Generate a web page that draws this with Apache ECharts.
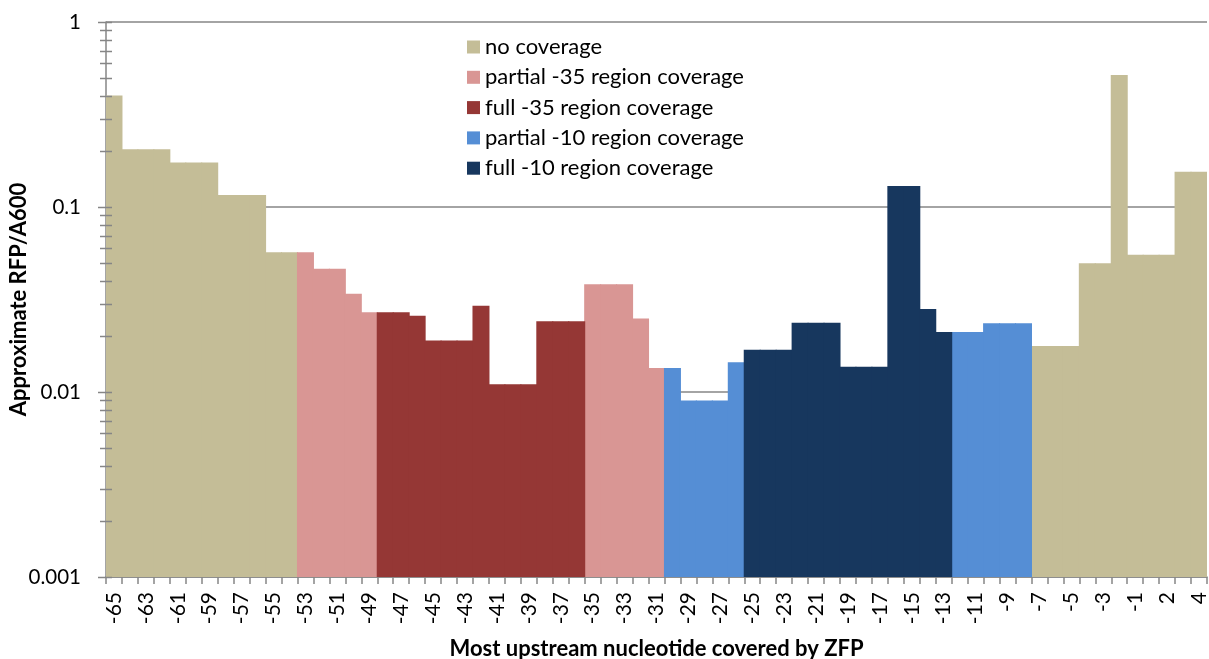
<!DOCTYPE html>
<html>
<head>
<meta charset="utf-8">
<script src="https://cdn.jsdelivr.net/npm/echarts@6/dist/echarts.min.js"></script>
<style>
  html, body { margin: 0; padding: 0; background: #fff; }
  #chart { width: 1209px; height: 659px; }
</style>
</head>
<body>
<div id="chart"></div>
<script>
// Position of the most upstream nucleotide covered by the ZFP
const positions = [
  '-65','-64','-63','-62','-61','-60','-59','-58','-57','-56',
  '-55','-54','-53','-52','-51','-50','-49','-48','-47','-46',
  '-45','-44','-43','-42','-41','-40','-39','-38','-37','-36',
  '-35','-34','-33','-32','-31','-30','-29','-28','-27','-26',
  '-25','-24','-23','-22','-21','-20','-19','-18','-17','-16',
  '-15','-14','-13','-12','-11','-10','-9','-8','-7','-6',
  '-5','-4','-3','-2','-1','1','2','3','4'
];

// Approximate RFP/A600 for each position
const rfpA600 = [
  0.40, 0.205, 0.205, 0.205, 0.174, 0.174, 0.174, 0.116, 0.116, 0.116,
  0.057, 0.057, 0.057, 0.0464, 0.0464, 0.034, 0.027, 0.027, 0.027, 0.0258,
  0.019, 0.019, 0.019, 0.0293, 0.011, 0.011, 0.011, 0.0241, 0.0241, 0.0241,
  0.0382, 0.0382, 0.0382, 0.025, 0.0135, 0.0135, 0.009, 0.009, 0.009, 0.0145,
  0.0169, 0.0169, 0.0169, 0.0237, 0.0237, 0.0237, 0.0137, 0.0137, 0.0137, 0.130,
  0.130, 0.0281, 0.0211, 0.0211, 0.0211, 0.0235, 0.0235, 0.0235, 0.0177, 0.0177,
  0.0177, 0.0496, 0.0496, 0.517, 0.0552, 0.0552, 0.0552, 0.155, 0.155
];

// Promoter coverage class of each position (index into coverageNames)
const coverageClass = [
  0,0,0,0,0,0,0,0,0,0,
  0,0,1,1,1,1,1,2,2,2,
  2,2,2,2,2,2,2,2,2,2,
  1,1,1,1,1,3,3,3,3,3,
  4,4,4,4,4,4,4,4,4,4,
  4,4,4,3,3,3,3,3,0,0,
  0,0,0,0,0,0,0,0,0
];

const coverageNames = [
  'no coverage',
  'partial -35 region coverage',
  'full -35 region coverage',
  'partial -10 region coverage',
  'full -10 region coverage'
];
const coverageColors = ['#C4BD97', '#D99694', '#953735', '#558ED5', '#17375E'];

// Y tick labels and the log-axis ticks (major decades plus 2..9 minors)
const yTickLabels = ['0.001', '0.01', '0.1', '1'];
const yTickValues = [];
for (let k = -3; k <= -1; k++) {
  for (let m = 1; m <= 9; m++) yTickValues.push([m, m * Math.pow(10, k)]);
}
yTickValues.push([1, 1]);

const FONT = 'Lato, "Open Sans", sans-serif';
const AXIS_GRAY = '#868686';

// Bars fill their whole category band; a slightly wider bar hides seams
const barSeries = coverageNames.map((name, c) => ({
  name: name,
  type: 'bar',
  barGap: '-100%',
  barCategoryGap: 0,
  barWidth: 17,
  itemStyle: { color: coverageColors[c] },
  emphasis: { disabled: true },
  data: rfpA600.map((v, i) => (coverageClass[i] === c ? v : null))
}));

const tickSeries = {
  type: 'custom',
  silent: true,
  clip: false,
  z: 10,
  data: yTickValues.map(t => [0, t[1], t[0]]),
  encode: { x: 0, y: 1 },
  renderItem: function (params, api) {
    const y = Math.round(api.coord([0, api.value(1)])[1]) + 0.5;
    const x0 = params.coordSys.x;
    const major = api.value(2) === 1;
    return {
      type: 'line',
      shape: { x1: x0 - (major ? 8 : 6), y1: y, x2: x0 + 6, y2: y },
      style: { stroke: AXIS_GRAY, lineWidth: 1.5 }
    };
  }
};

const chart = echarts.init(document.getElementById('chart'), null, { renderer: 'canvas' });
chart.setOption({
  animation: false,
  backgroundColor: '#ffffff',
  textStyle: { fontFamily: FONT },
  grid: { left: 106, right: 2, top: 22, bottom: 82, containLabel: false, outerBoundsMode: 'none' },
  legend: {
    data: coverageNames,
    orient: 'vertical',
    left: 467,
    top: 36,
    padding: 0,
    icon: 'rect',
    itemWidth: 13,
    itemHeight: 13,
    itemGap: 8.3,
    selectedMode: false,
    textStyle: { fontFamily: FONT, fontSize: 22, color: '#000', lineHeight: 22, padding: [0, 0, 0, 0] }
  },
  xAxis: {
    type: 'category',
    data: positions,
    boundaryGap: true,
    name: 'Most upstream nucleotide covered by ZFP',
    nameLocation: 'middle',
    nameGap: 61,
    nameMoveOverlap: false,
    nameTextStyle: { fontFamily: FONT, fontSize: 22, fontWeight: 'bold', color: '#000' },
    axisLine: { lineStyle: { color: AXIS_GRAY, width: 1.5 } },
    axisTick: { show: true, interval: 0, length: 7, lineStyle: { color: AXIS_GRAY, width: 1.5 } },
    axisLabel: {
      interval: 1,
      rotate: 90,
      margin: 15,
      fontFamily: FONT,
      fontSize: 21,
      color: '#000'
    },
    splitLine: { show: false }
  },
  yAxis: {
    type: 'log',
    logBase: 10,
    min: 0.001,
    max: 1,
    startValue: 0.001,
    name: 'Approximate RFP/A600',
    nameLocation: 'middle',
    nameGap: 76,
    nameMoveOverlap: false,
    nameTextStyle: { fontFamily: FONT, fontSize: 22, fontWeight: 'bold', color: '#000' },
    axisLine: { show: true, lineStyle: { color: AXIS_GRAY, width: 1.5 } },
    axisTick: { show: false },
    axisLabel: {
      margin: 25,
      fontFamily: FONT,
      fontSize: 20.5,
      color: '#000',
      formatter: function (v) {
        const idx = Math.round(Math.log10(v)) + 3;
        return yTickLabels[idx] !== undefined ? yTickLabels[idx] : '';
      }
    },
    splitLine: { show: true, lineStyle: { color: AXIS_GRAY, width: 1.5 } }
  },
  series: barSeries.concat([tickSeries])
});
</script>
</body>
</html>
